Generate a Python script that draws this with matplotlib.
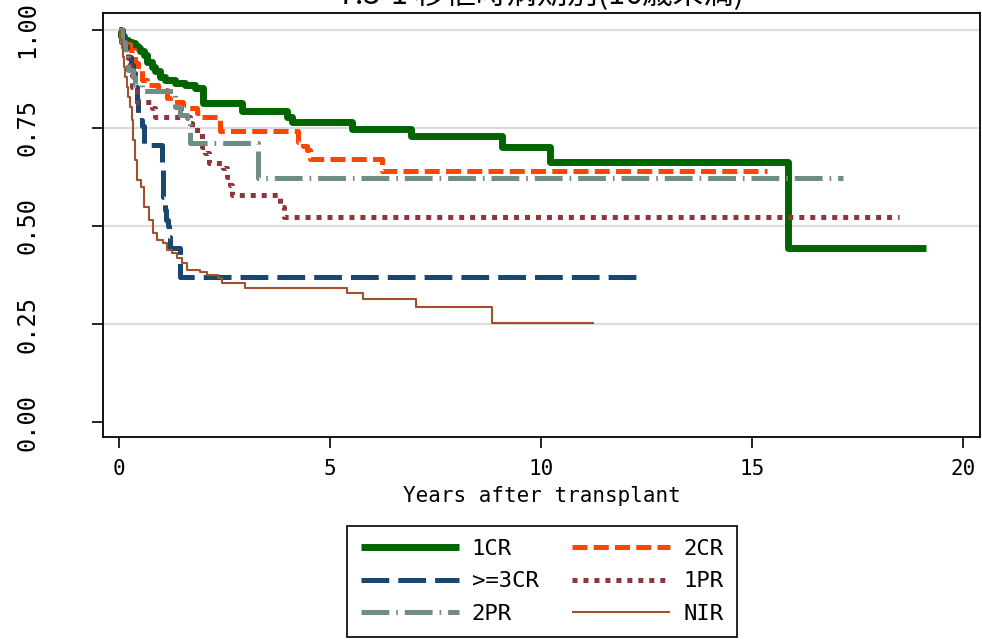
import matplotlib
matplotlib.use("Agg")
import matplotlib.pyplot as plt

plt.rcParams['font.family'] = ['DejaVu Sans Mono']
plt.rcParams['lines.scale_dashes'] = False

# Kaplan-Meier curves (years, survival)
cr1_t = [0, 0.05, 0.12, 0.22, 0.30, 0.38, 0.45, 0.50, 0.58, 0.66, 0.77, 0.85, 0.97, 1.09, 1.33, 1.56,
         1.80, 2.00, 2.91, 3.97, 4.09, 5.51, 6.92, 9.08, 10.2, 15.84, 19.12]
cr1_s = [1.0, 0.985, 0.975, 0.97, 0.966, 0.96, 0.953, 0.945, 0.936, 0.919, 0.906, 0.894, 0.881, 0.872,
         0.864, 0.860, 0.851, 0.813, 0.792, 0.779, 0.764, 0.747, 0.730, 0.701, 0.664, 0.445, 0.445]

cr2_t = [0, 0.08, 0.15, 0.26, 0.38, 0.46, 0.54, 0.66, 0.93, 1.13, 1.21, 1.52, 1.84, 1.92, 2.40,
         4.25, 4.35, 4.45, 4.52, 6.22, 15.35]
cr2_s = [1.0, 0.98, 0.965, 0.949, 0.915, 0.898, 0.872, 0.860, 0.847, 0.826, 0.817, 0.80, 0.787,
         0.779, 0.742, 0.715, 0.705, 0.694, 0.670, 0.639, 0.639]

cr3_t = [0, 0.10, 0.14, 0.18, 0.22, 0.28, 0.34, 0.38, 0.42, 0.46, 0.54, 0.60, 1.01, 1.04, 1.08,
         1.12, 1.17, 1.19, 1.21, 1.44, 12.37]
cr3_s = [1.0, 0.98, 0.96, 0.945, 0.932, 0.91, 0.889, 0.855, 0.821, 0.77, 0.755, 0.707, 0.643, 0.575,
         0.54, 0.515, 0.50, 0.473, 0.444, 0.371, 0.371]

pr1_t = [0, 0.05, 0.12, 0.22, 0.26, 0.30, 0.42, 0.77, 0.85, 1.68, 1.72, 1.96, 2.04, 2.12, 2.47,
         2.55, 2.63, 2.68, 3.82, 3.90, 18.49]
pr1_s = [1.0, 0.97, 0.95, 0.928, 0.89, 0.855, 0.817, 0.80, 0.779, 0.762, 0.745, 0.702, 0.685, 0.66,
         0.647, 0.626, 0.605, 0.579, 0.549, 0.522, 0.522]

pr2_t = [0, 0.06, 0.14, 0.22, 0.34, 0.38, 0.55, 1.33, 1.45, 1.60, 1.68, 3.30, 17.16]
pr2_s = [1.0, 0.97, 0.94, 0.898, 0.881, 0.86, 0.843, 0.804, 0.783, 0.775, 0.711, 0.622, 0.622]

nir_t = [0, 0.03, 0.06, 0.09, 0.12, 0.15, 0.18, 0.21, 0.25, 0.30, 0.34, 0.38, 0.43, 0.51, 0.58,
         0.70, 0.80, 0.89, 1.05, 1.13, 1.25, 1.37, 1.49, 1.60, 1.92, 2.08, 2.35, 2.43, 2.99, 5.40,
         5.79, 7.04, 8.84, 11.26]
nir_s = [1.0, 0.975, 0.953, 0.93, 0.906, 0.88, 0.855, 0.83, 0.804, 0.770, 0.719, 0.668, 0.617, 0.600,
         0.549, 0.515, 0.481, 0.464, 0.456, 0.439, 0.430, 0.418, 0.405, 0.388, 0.383, 0.375, 0.367,
         0.354, 0.341, 0.328, 0.313, 0.294, 0.253, 0.253]

x_ticks = [0, 5, 10, 15, 20]
y_ticks = [0, 0.25, 0.5, 0.75, 1.0]
y_labels = ["0.00", "0.25", "0.50", "0.75", "1.00"]

fig = plt.figure(figsize=(9.82, 6.41), dpi=100)
ax = fig.add_axes([103/982, 1-437/641, 877/982, 424/641])

for y in y_ticks[1:]:
    ax.axhline(y, color='#dcdcdc', lw=1.6, zorder=0)

kw = dict(where='post', solid_capstyle='butt', dash_capstyle='butt')
l1, = ax.step(cr1_t, cr1_s, color='#006400', lw=5, label='1CR', **kw)
l2, = ax.step(cr2_t, cr2_s, color='#ff4500', lw=3.6, dashes=(10.8, 4.5), label='2CR', **kw)
l3, = ax.step(cr3_t, cr3_s, color='#1a476f', lw=3.6, dashes=(20, 6.5), label='>=3CR', **kw)
l4, = ax.step(pr1_t, pr1_s, color='#90353b', lw=3.6, dashes=(3.6, 4.3), label='1PR', **kw)
l5, = ax.step(pr2_t, pr2_s, color='#6e8e84', lw=3.6, dashes=(20, 5, 1.2, 5), label='2PR', **kw)
l6, = ax.step(nir_t, nir_s, color='#a0522d', lw=1.5, label='NIR', **kw)

ax.set_xlim(-0.38, 20.40)
ax.set_ylim(-0.038, 1.043)
ax.set_xticks(x_ticks)
ax.set_yticks(y_ticks)
ax.set_yticklabels(y_labels, rotation=90, va='center')
ax.tick_params(axis='y', length=8, width=1.2, pad=38, labelsize=17)
ax.tick_params(axis='x', length=8, width=1.2, pad=8, labelsize=15)
for sp in ax.spines.values():
    sp.set_linewidth(1.3)
ax.set_xlabel('Years after transplant', fontsize=15, labelpad=5)

fig.text(541/982, 1.008, '7.3-1 移植時病期別(16歳未満)', ha='center', va='center',
         fontsize=22, family=['Noto Sans CJK JP', 'DejaVu Sans'])

handles = [l1, l3, l5, l2, l4, l6]
leg = fig.legend(handles=handles, labels=[h.get_label() for h in handles], ncol=2,
                 loc='lower center', bbox_to_anchor=(542/982, 4/641), borderaxespad=0,
                 fontsize=16, handlelength=4.4, handletextpad=0.6, columnspacing=1.5,
                 labelspacing=0.55, borderpad=0.6, fancybox=False, framealpha=1,
                 edgecolor='black')
leg.get_frame().set_linewidth(1.2)

fig.savefig('out.png', dpi=100)
